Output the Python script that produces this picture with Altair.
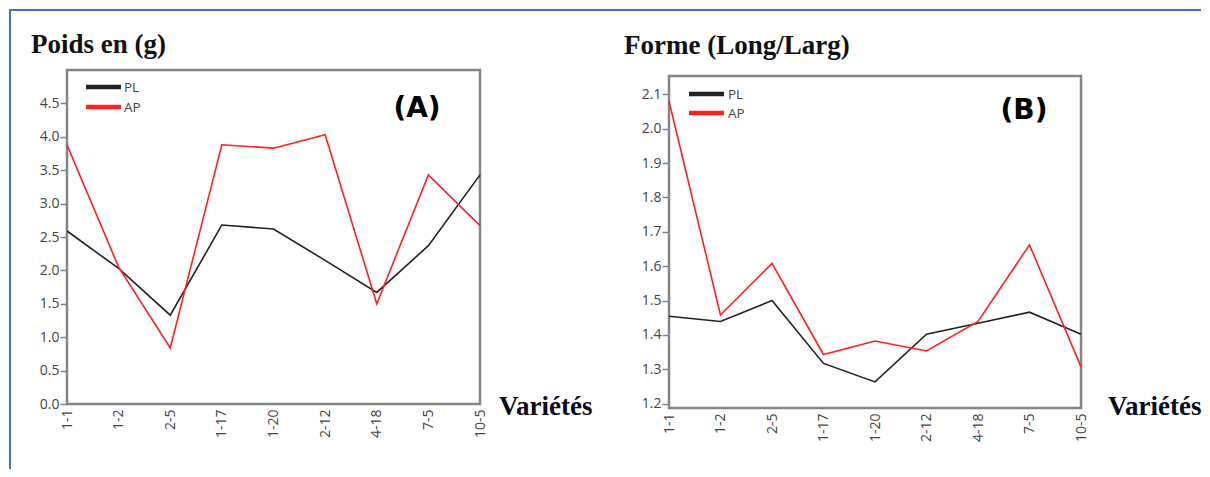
import altair as alt
import pandas as pd

categories = ["1-1", "1-2", "2-5", "1-17", "1-20", "2-12", "4-18", "7-5", "10-5"]
series_names = ["PL", "AP"]
series_colors = ["#222222", "#ff2020"]

poids_pl = [2.59, 2.03, 1.33, 2.68, 2.62, 2.15, 1.67, 2.37, 3.43]
poids_ap = [3.88, 2.05, 0.84, 3.88, 3.83, 4.03, 1.50, 3.43, 2.67]
forme_pl = [1.454, 1.439, 1.500, 1.317, 1.263, 1.402, 1.434, 1.466, 1.402]
forme_ap = [2.080, 1.458, 1.608, 1.343, 1.382, 1.353, 1.439, 1.662, 1.307]

poids_ticks = [0.0, 0.5, 1.0, 1.5, 2.0, 2.5, 3.0, 3.5, 4.0, 4.5]
forme_ticks = [1.2, 1.3, 1.4, 1.5, 1.6, 1.7, 1.8, 1.9, 2.0, 2.1]

GRAY = "#858585"
BLUE = "#4472C4"


def long_df(pl, ap):
    rows = []
    for name, vals in zip(series_names, [pl, ap]):
        for c, v in zip(categories, vals):
            rows.append({"Variété": c, "Série": name, "Valeur": v})
    return pd.DataFrame(rows)


def one(txt):
    return alt.Chart(pd.DataFrame({"label": [txt]}))


def text_at(txt, x, y, **kw):
    return one(txt).mark_text(**kw).encode(
        text="label:N", x=alt.value(x), y=alt.value(y)
    )


def panel(df, ticks, domain, W, H, frame_top, title, title_xy, tag, tag_xy,
          var_xy, leg):
    base = alt.Chart(df).mark_line(strokeWidth=1.6).encode(
        x=alt.X("Variété:N", sort=categories,
                scale=alt.Scale(type="point", padding=0),
                axis=alt.Axis(title=None, labelAngle=-90, ticks=False,
                              domain=False, labelPadding=5)),
        y=alt.Y("Valeur:Q", scale=alt.Scale(domain=domain, nice=False, zero=False),
                axis=alt.Axis(title=None, values=ticks, format=".1f",
                              domain=False, tickSize=7, tickWidth=1.5,
                              tickColor=GRAY, labelPadding=1, grid=False)),
        color=alt.Color("Série:N",
                        scale=alt.Scale(domain=series_names, range=series_colors),
                        legend=None),
        order=alt.Order("Série:N", sort="descending"),
    )
    frame = one("frame").mark_rect(fillOpacity=0, stroke=GRAY, strokeWidth=2.5).encode(
        x=alt.value(0), x2=alt.value(W), y=alt.value(frame_top), y2=alt.value(H)
    )
    layers = [frame, base]
    # legend
    lx0, lx1, ly_pl, ly_ap, ltx = leg
    for name, col, ly in zip(series_names, series_colors, [ly_pl, ly_ap]):
        layers.append(one(name).mark_rule(strokeWidth=4.5, color=col).encode(
            x=alt.value(lx0), x2=alt.value(lx1), y=alt.value(ly)))
        layers.append(text_at(name, ltx, ly + 1, align="left", baseline="middle",
                              fontSize=13.5, font="Open Sans", color="#444"))
    layers.append(text_at(title, title_xy[0], title_xy[1], align="left",
                          baseline="alphabetic", fontSize=27, fontWeight="bold",
                          font="Liberation Serif", color="#111"))
    layers.append(text_at(tag, tag_xy[0], tag_xy[1], align="center",
                          baseline="middle", fontSize=28, fontWeight="bold",
                          font="DejaVu Sans", color="#000"))
    layers.append(text_at("Variétés", var_xy[0], var_xy[1], align="left",
                          baseline="alphabetic", fontSize=27, fontWeight="bold",
                          font="Liberation Serif", color="#0a0a1a"))
    return alt.layer(*layers).properties(width=W, height=H)


WL, HL = 413, 334
WR, HR = 412, 338

left = panel(long_df(poids_pl, poids_ap), poids_ticks, [0, 5.0], WL, HL, 0,
             "Poids en (g)", (-36, -17), "(A)", (350, 39), (432, 345),
             (19, 54, 17, 37, 57))

# decorative blue page frame (top and left edges)
border_top = one("b").mark_rule(color=BLUE, strokeWidth=2).encode(
    x=alt.value(-58), x2=alt.value(1134), y=alt.value(-60))
border_left = one("b").mark_rule(color=BLUE, strokeWidth=2).encode(
    x=alt.value(-57), y=alt.value(-61), y2=alt.value(399))
left = alt.layer(left, border_top, border_left)

right = panel(long_df(forme_pl, forme_ap), forme_ticks, [1.1872, 2.1708], WR, HR, 6,
              "Forme (Long/Larg)", (-45, -16), "(B)", (355, 41), (439, 345),
              (20, 55, 24, 43, 59))

chart = alt.hconcat(left, right, spacing=189, bounds="flush").properties(
    padding=0
).configure_view(stroke=None).configure_axis(
    labelFont="Open Sans", labelFontSize=14, labelColor="#444"
)

chart.save("out.html", embed_options={"renderer": "svg", "actions": False})
